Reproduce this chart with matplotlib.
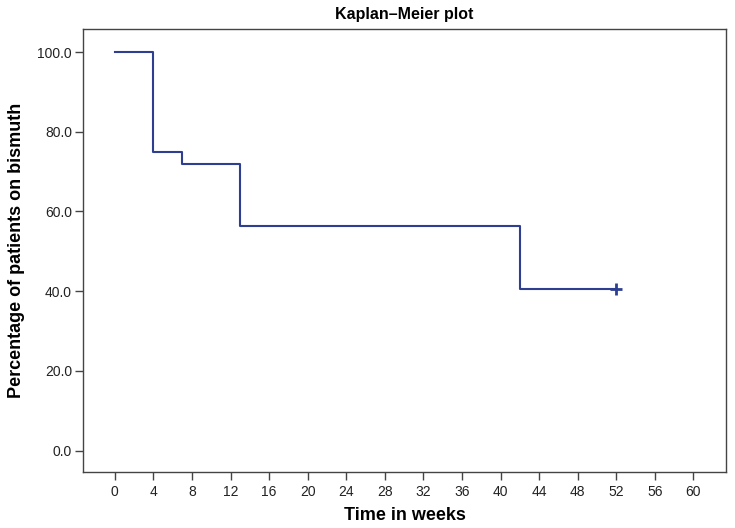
import matplotlib
matplotlib.use("Agg")
import matplotlib.pyplot as plt
from matplotlib.ticker import FormatStrFormatter

# data
weeks = [0, 4, 7, 13, 42, 52]
survival = [100.0, 75.0, 71.875, 56.25, 40.625, 40.625]
censored_weeks = [52]
censored_vals = [40.625]
x_ticks = list(range(0, 61, 4))
y_ticks = [0, 20, 40, 60, 80, 100]

plt.rcParams["font.family"] = ["Liberation Sans", "DejaVu Sans"]

fig = plt.figure(figsize=(7.35, 5.28), dpi=100)
ax = fig.add_axes([0.113, 0.106, 0.875, 0.839])

line_col = "#2e3f92"
ax.step(weeks, survival, where="post", color=line_col, linewidth=1.5)
ax.plot(censored_weeks, censored_vals, marker="+", color=line_col,
        markersize=9, markeredgewidth=2, linestyle="none")

ax.set_xlim(-3.3, 63.4)
ax.set_ylim(-5.4, 105.8)
ax.set_xticks(x_ticks)
ax.set_yticks(y_ticks)
ax.yaxis.set_major_formatter(FormatStrFormatter("%.1f"))

for s in ax.spines.values():
    s.set_color("#444444")
    s.set_linewidth(1.0)
ax.tick_params(direction="out", length=6, width=1, color="#444444",
               labelsize=10, labelcolor="#222222")
ax.tick_params(axis="y", pad=2)
ax.tick_params(axis="x", pad=3)

ax.set_title("Kaplan\u2013Meier plot", fontsize=11.5, fontweight="bold", pad=7)
ax.set_xlabel("Time in weeks", fontsize=13, fontweight="bold", labelpad=6)
ax.set_ylabel("Percentage of patients on bismuth", fontsize=13,
              fontweight="bold", labelpad=9)

fig.savefig("out.png", dpi=100)
